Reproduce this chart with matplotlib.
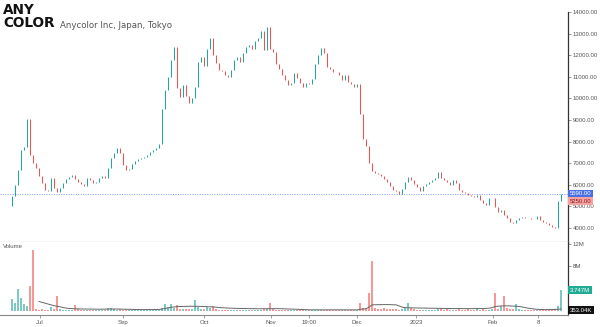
import numpy as np
import matplotlib.pyplot as plt

# daily closes (JPY), open of each bar = previous close
first_open = 5000
closes = [
    5500, 6000, 6700, 7600, 7750, 9050, 7400, 7000, 6780, 6400,
    6100, 5750, 5700, 6300, 5850, 5680, 5850, 6080, 6250, 6350,
    6450, 6250, 6150, 6050, 5950, 6300, 6200, 6100, 6150, 6300,
    6420, 6300, 6780, 7240, 7450, 7700, 7450, 6920, 6700, 6750,
    6950, 7100, 7180, 7250, 7300, 7380, 7530, 7600, 7720, 7880,
    9500, 10390, 11000, 11800, 12400, 10500, 10080, 10620, 10100, 9800,
    10020, 10540, 11700, 11900, 11500, 12300, 12800, 12000, 11640, 11310,
    11250, 11080, 11000, 11300, 11800, 11900, 11700, 12100, 12390, 12450,
    12300, 12650, 12800, 13100, 12250, 13300, 12300, 12150, 11600, 11350,
    11100, 10850, 10620, 10700, 11180, 10950, 10700, 10540, 10700, 10650,
    10900, 11600, 12000, 12350, 12100, 11450, 11350, 11240, 11200, 11100,
    10850, 11080, 10750, 10650, 10550, 10650, 9300, 8100, 7800, 7000,
    6650, 6560, 6500, 6400, 6250, 6120, 5950, 5780, 5700, 5580,
    5800, 6150, 6350, 6200, 6020, 5880, 5720, 5950, 6060, 6150,
    6220, 6330, 6600, 6300, 6220, 6140, 5990, 6220, 6080, 5760,
    5660, 5600, 5530, 5480, 5440, 5550, 5300, 5140, 5060, 5390,
    5400, 4990, 4750, 4850, 4600, 4460, 4300, 4230, 4370, 4480,
    4500, 4480, 4450, 4420, 4400, 4540, 4370, 4300, 4230, 4120,
    4050, 3990, 5250, 5590,
]

# volume in millions of shares
volumes = [
    2.1, 1.5, 4.0, 2.4, 1.2, 0.9, 4.4, 10.9, 0.3, 0.25,
    0.3, 0.2, 0.2, 0.7, 0.3, 2.6, 0.3, 0.2, 0.15, 0.2,
    0.25, 1.1, 0.3, 0.2, 0.15, 0.2, 0.15, 0.1, 0.15, 0.2,
    0.2, 0.15, 0.56, 0.56, 0.3, 0.25, 0.3, 0.2, 0.15, 0.1,
    0.12, 0.15, 0.1, 0.12, 0.15, 0.1, 0.15, 0.2, 0.15, 0.2,
    0.56, 1.3, 0.8, 1.2, 0.5, 1.1, 0.4, 0.3, 0.35, 0.3,
    0.3, 1.9, 0.8, 0.3, 0.4, 0.7, 0.5, 0.9, 0.3, 0.25,
    0.2, 0.2, 0.15, 0.2, 0.15, 0.2, 0.1, 0.15, 0.2, 0.15,
    0.2, 0.15, 0.2, 0.25, 0.3, 0.4, 1.5, 0.3, 0.2, 0.15,
    0.15, 0.2, 0.1, 0.15, 0.1, 0.15, 0.1, 0.1, 0.15, 0.1,
    0.12, 0.15, 0.2, 0.2, 0.15, 0.1, 0.15, 0.1, 0.12, 0.1,
    0.15, 0.1, 0.12, 0.1, 0.15, 0.2, 1.5, 0.6, 0.5, 3.2,
    9.0, 0.5, 0.4, 0.3, 0.45, 0.3, 0.35, 0.4, 0.3, 0.2,
    0.3, 0.56, 1.5, 0.5, 0.3, 0.2, 0.25, 0.2, 0.15, 0.2,
    0.2, 0.25, 0.3, 0.56, 0.2, 0.3, 0.2, 0.15, 0.2, 0.3,
    0.2, 0.25, 0.3, 0.2, 0.15, 0.5, 0.2, 0.3, 0.25, 0.2,
    0.3, 3.2, 0.4, 0.9, 2.6, 0.6, 0.4, 0.3, 1.2, 0.3,
    0.2, 0.15, 0.2, 0.15, 0.2, 0.25, 0.3, 0.2, 0.15, 0.2,
    0.25, 0.3, 0.9, 3.747,
]

# volume moving average (millions)
nan = float("nan")
vol_ma = [
    nan, nan, nan, nan, nan, nan, nan, nan, nan, 1.7,
    1.55, 1.4, 1.25, 1.1, 0.95, 0.85, 0.75, 0.62, 0.52, 0.45,
    0.42, 0.4, 0.38, 0.36, 0.35, 0.35, 0.34, 0.33, 0.33, 0.32,
    0.32, 0.33, 0.35, 0.36, 0.36, 0.35, 0.34, 0.33, 0.32, 0.3,
    0.28, 0.27, 0.26, 0.26, 0.25, 0.25, 0.25, 0.26, 0.27, 0.28,
    0.35, 0.45, 0.55, 0.65, 0.72, 0.78, 0.8, 0.82, 0.84, 0.85,
    0.85, 0.85, 0.84, 0.82, 0.8, 0.78, 0.75, 0.72, 0.68, 0.62,
    0.58, 0.55, 0.52, 0.5, 0.48, 0.46, 0.45, 0.44, 0.43, 0.42,
    0.42, 0.41, 0.4, 0.4, 0.4, 0.4, 0.42, 0.42, 0.42, 0.41,
    0.4, 0.38, 0.36, 0.34, 0.32, 0.3, 0.28, 0.26, 0.24, 0.22,
    0.2, 0.2, 0.2, 0.2, 0.2, 0.2, 0.2, 0.2, 0.2, 0.2,
    0.2, 0.2, 0.2, 0.2, 0.2, 0.2, 0.3, 0.35, 0.4, 0.7,
    1.1, 1.12, 1.13, 1.14, 1.15, 1.15, 1.14, 1.12, 1.1, 0.9,
    0.7, 0.6, 0.58, 0.56, 0.55, 0.54, 0.53, 0.52, 0.5, 0.5,
    0.48, 0.47, 0.46, 0.46, 0.45, 0.45, 0.44, 0.44, 0.43, 0.43,
    0.42, 0.42, 0.42, 0.42, 0.42, 0.43, 0.44, 0.45, 0.46, 0.5,
    0.6, 0.8, 0.85, 0.9, 0.92, 0.92, 0.9, 0.88, 0.85, 0.8,
    0.72, 0.6, 0.5, 0.42, 0.35, 0.3, 0.28, 0.26, 0.25, 0.25,
    0.26, 0.28, 0.31, 0.35304,
]

tick_labels = ["Jul", "Sep", "Oct", "Nov", "19:00", "Dec", "2023", "Feb", "8"]
tick_pos = [9.3, 37, 64, 86.3, 99, 115, 134.7, 160.3, 175.3]
price_ticks = [4000, 5000, 6000, 7000, 8000, 9000, 10000, 11000, 12000, 13000, 14000]
vol_ticks = [4, 8, 12]

UP = "#26a69a"
DOWN = "#ef5350"
LBL = "#555555"
FONT = "Liberation Sans"

closes = np.array(closes, dtype=float)
opens = np.concatenate([[first_open], closes[:-1]])
volumes = np.array(volumes)
vol_ma = np.array(vol_ma)
idx = np.arange(len(closes))
up = closes >= opens
colors = np.where(up, UP, DOWN)

fig = plt.figure(figsize=(6, 3.27), dpi=100)
W, H = 600, 327
ax = fig.add_axes([0, 85 / H, 568 / W, 242 / H])
axv = fig.add_axes([0, 12 / H, 568 / W, 73 / H], sharex=ax)

# ---- price panel ----
ax.vlines(idx, opens, closes, colors=colors, linewidth=0.75)
ax.set_xlim(-4, 185.3)
ax.set_ylim(3352, 14555)
ax.axhline(closes[-1], color="#2962ff", linewidth=0.7, linestyle=(0, (1, 1.5)), alpha=0.6)

for s in ["top", "left"]:
    ax.spines[s].set_visible(False)
ax.spines["bottom"].set_color("#cfcfcf")
ax.spines["bottom"].set_linewidth(1.0)
ax.spines["right"].set_color("#333333")
ax.spines["right"].set_linewidth(0.9)
ax.spines["right"].set_bounds(3352, 14000)
ax.yaxis.tick_right()
ax.set_yticks(price_ticks)
ax.set_yticklabels([f"{p:.2f}" for p in price_ticks])
ax.tick_params(axis="y", labelsize=4.3, labelcolor=LBL, color="#777777",
               length=2, width=0.5, pad=1.5)
for t in ax.get_yticklabels():
    t.set_fontfamily(FONT)
ax.tick_params(axis="x", bottom=False, labelbottom=False)

# price tags on the scale
ax.text(1.0035, closes[-1], f"{closes[-1]:.2f}", transform=ax.get_yaxis_transform(),
        fontsize=4.3, color="white", family=FONT, va="center", ha="left", zorder=10,
        bbox=dict(boxstyle="square,pad=0.25", fc="#4a6fe3", ec="none"), clip_on=False)
ax.text(1.0035, closes[-2], f"{closes[-2]:.2f}", transform=ax.get_yaxis_transform(),
        fontsize=4.3, color="#8b1a1a", family=FONT, va="center", ha="left", zorder=10,
        bbox=dict(boxstyle="square,pad=0.25", fc="#f4a3a3", ec="none"), clip_on=False)

# ---- volume panel ----
axv.bar(idx, volumes, width=0.8, color=colors, alpha=0.6, linewidth=0)
axv.plot(idx, vol_ma, color="#666666", linewidth=0.7)
axv.set_ylim(-0.72, 12.36)
for s in ["top", "left"]:
    axv.spines[s].set_visible(False)
axv.spines["right"].set_color("#333333")
axv.spines["right"].set_linewidth(0.9)
axv.spines["bottom"].set_color("#888888")
axv.spines["bottom"].set_linewidth(0.8)
axv.yaxis.tick_right()
axv.set_yticks(vol_ticks)
axv.set_yticklabels([f"{v}M" for v in vol_ticks])
axv.tick_params(axis="y", labelsize=4.3, labelcolor=LBL, color="#777777",
                length=2, width=0.5, pad=1.5)
axv.set_xticks(tick_pos)
axv.set_xticklabels(tick_labels)
axv.tick_params(axis="x", labelsize=4.3, labelcolor=LBL, color="#777777",
                length=2, width=0.5, pad=1.5)
for t in axv.get_yticklabels() + axv.get_xticklabels():
    t.set_fontfamily(FONT)

axv.text(1.0035, volumes[-1], f"{volumes[-1]:.3f}M", transform=axv.get_yaxis_transform(),
         fontsize=4.3, color="white", family=FONT, va="center", ha="left", zorder=10,
         bbox=dict(boxstyle="square,pad=0.25", fc="#22ab94", ec="none"), clip_on=False)
axv.text(1.0035, vol_ma[-1] - 0.2, f"{vol_ma[-1] * 1000:.2f}K", transform=axv.get_yaxis_transform(),
         fontsize=4.3, color="white", family=FONT, va="center", ha="left", zorder=10,
         bbox=dict(boxstyle="square,pad=0.25", fc="#111111", ec="none"), clip_on=False)
axv.text(0.005, 0.97, "Volume", transform=axv.transAxes, fontsize=4.3, color=LBL,
         family=FONT, va="top", ha="left")

# ---- header ----
fig.text(3 / W, 1 - 3 / H, "ANY\nCOLOR", fontsize=9.8, fontweight="heavy", color="#111111",
         family="DejaVu Sans", va="top", ha="left", linespacing=0.95)
fig.text(60 / W, 1 - 28 / H, "Anycolor Inc, Japan, Tokyo", fontsize=6.2, color=LBL,
         family="DejaVu Sans", va="baseline", ha="left")

fig.savefig("out.png", dpi=100)
